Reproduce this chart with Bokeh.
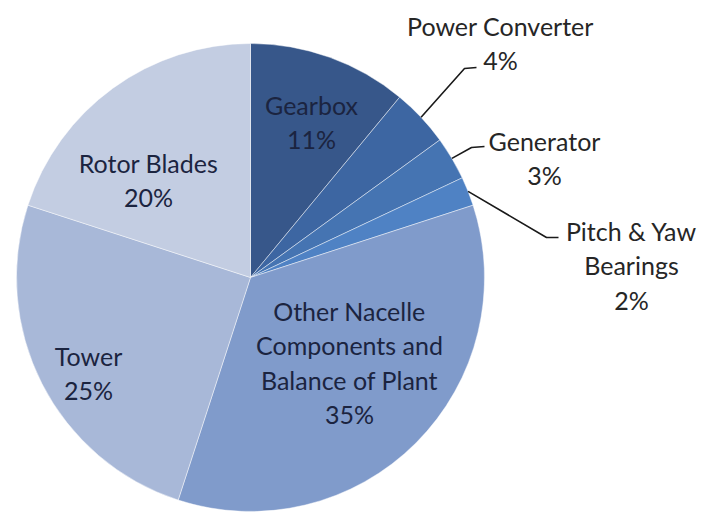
import math
from bokeh.plotting import figure
from bokeh.models import Range1d, ColumnDataSource
from bokeh.core.properties import value
from bokeh.embed import file_html
from bokeh.resources import INLINE

# ---- data ----
components = ["Gearbox", "Power Converter", "Generator", "Pitch & Yaw\nBearings",
              "Other Nacelle\nComponents and\nBalance of Plant", "Tower", "Rotor Blades"]
shares = [11, 4, 3, 2, 35, 25, 20]
colors = ["#37578a", "#3d66a2", "#4574b2", "#4f82c4", "#809bcb", "#a8b8d8", "#c3cde2"]
outside = [False, True, True, True, False, False, False]

# ---- layout (reference pixel coordinates, y downward) ----
CX, CY, R = 250, 277, 234
label_anchor = {  # center x, first baseline y
    "Gearbox": (311, 104),
    "Power Converter": (500, 25),
    "Generator": (544, 140),
    "Pitch & Yaw\nBearings": (631, 230),
    "Other Nacelle\nComponents and\nBalance of Plant": (349, 310),
    "Tower": (88, 355),
    "Rotor Blades": (148, 162),
}
leader_elbow = {
    "Power Converter": [(464, 68), (476, 67)],
    "Generator": [(471, 147), (484, 146)],
    "Pitch & Yaw\nBearings": [(546, 237), (558, 237)],
}
LINE_STEP = 34.5
W, H = 702, 512


def Y(y):
    return H - y


p = figure(width=W, height=H, output_backend="svg", toolbar_location=None,
           x_range=Range1d(0, W), y_range=Range1d(0, H), min_border=0)
p.axis.visible = False
p.grid.visible = False
p.outline_line_color = None
p.background_fill_color = "white"
p.border_fill_color = "white"

total = sum(shares)
starts, ends, mids = [], [], []
cum = 0
for v in shares:
    a0 = math.pi / 2 - 2 * math.pi * cum / total
    cum += v
    a1 = math.pi / 2 - 2 * math.pi * cum / total
    starts.append(a0)
    ends.append(a1)
    mids.append((a0 + a1) / 2)

src = ColumnDataSource(dict(start=starts, end=ends, color=colors))
p.wedge(x=CX, y=Y(CY), radius=R, start_angle="start", end_angle="end",
        direction="clock", fill_color="color", line_color="white",
        line_alpha=0.45, line_width=1, source=src)

# leader lines
for name, m, out in zip(components, mids, outside):
    if not out:
        continue
    sx = CX + R * math.cos(m)
    sy = Y(CY) + R * math.sin(m)
    pts = [(sx, sy)] + [(x, Y(y)) for x, y in leader_elbow[name]]
    p.line([q[0] for q in pts], [q[1] for q in pts], line_color="#1a1a1a", line_width=1.6)

# labels
tx, ty, tt, tc = [], [], [], []
for name, v, out in zip(components, shares, outside):
    ax, ay = label_anchor[name]
    lines = name.split("\n") + [f"{v}%"]
    for i, ln in enumerate(lines):
        tx.append(ax)
        ty.append(Y(ay + i * LINE_STEP))
        tt.append(ln)
        tc.append("#262626" if out else "#1b2440")

p.text(x=tx, y=ty, text=tt, text_color=tc, text_align="center",
       text_baseline="alphabetic", text_font=value("Lato"), text_font_size="25px")

open("out.html", "w").write(file_html(p, INLINE))
